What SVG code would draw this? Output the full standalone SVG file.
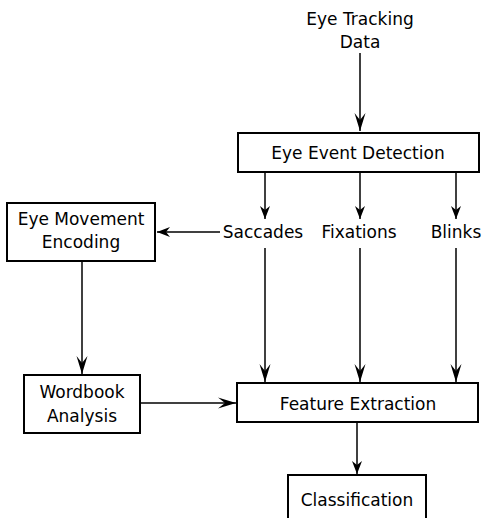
<svg xmlns="http://www.w3.org/2000/svg" width="482" height="518" viewBox="0 0 482 518">
<style>
.box{fill:#fff;stroke:#000;stroke-width:2}
.t{font-family:"DejaVu Sans",Verdana,sans-serif;font-size:17px;fill:#000;text-anchor:middle}
.c{stroke:#000;stroke-width:1.5;fill:none}
.a1{marker-end:url(#ah)}
.a2{marker-end:url(#ahb)}
</style>
<defs>
<marker id="ah" markerUnits="userSpaceOnUse" markerWidth="16" markerHeight="14" viewBox="-14 -6 16 12" refX="0" refY="0" orient="auto">
<path d="M0,0 L-13,-5 L-9,0 L-13,5 Z" fill="#000"/>
</marker>
<marker id="ahb" markerUnits="userSpaceOnUse" markerWidth="20" markerHeight="14" viewBox="-18 -7 20 14" refX="0" refY="0" orient="auto">
<path d="M0,0 L-18,-5.5 L-11,0 L-18,5.5 Z" fill="#000"/>
</marker>
</defs>
<g id="connectors">
<line class="c a2" x1="360" y1="53" x2="360" y2="131"/>
<line class="c a1" x1="265" y1="172" x2="265" y2="219"/>
<line class="c a1" x1="360" y1="172" x2="360" y2="219"/>
<line class="c a1" x1="456" y1="172" x2="456" y2="219"/>
<line class="c a1" x1="220" y1="232" x2="157" y2="232"/>
<line class="c a2" x1="265" y1="248" x2="265" y2="382"/>
<line class="c a2" x1="360" y1="248" x2="360" y2="382"/>
<line class="c a2" x1="456" y1="248" x2="456" y2="382"/>
<line class="c a2" x1="82" y1="261" x2="82" y2="374"/>
<line class="c a2" x1="140" y1="403" x2="236" y2="403"/>
<line class="c a1" x1="357" y1="422" x2="357" y2="474"/>
</g>
<g id="eye-tracking-data">
<text class="t" x="360" y="25">Eye Tracking</text>
<text class="t" x="360" y="48">Data</text>
</g>
<g id="eye-event-detection">
<rect class="box" x="238" y="133" width="241" height="39"/>
<text class="t" x="358" y="159">Eye Event Detection</text>
</g>
<g id="saccades"><text class="t" x="263" y="238">Saccades</text></g>
<g id="fixations"><text class="t" x="359" y="238">Fixations</text></g>
<g id="blinks"><text class="t" x="456" y="238">Blinks</text></g>
<g id="eye-movement-encoding">
<rect class="box" x="7" y="203" width="148" height="58"/>
<text class="t" x="81" y="225">Eye Movement</text>
<text class="t" x="81" y="248">Encoding</text>
</g>
<g id="wordbook-analysis">
<rect class="box" x="24" y="375" width="116" height="58"/>
<text class="t" x="82" y="398">Wordbook</text>
<text class="t" x="82" y="422">Analysis</text>
</g>
<g id="feature-extraction">
<rect class="box" x="237" y="383" width="241" height="39"/>
<text class="t" x="358" y="410">Feature Extraction</text>
</g>
<g id="classification">
<rect class="box" x="288" y="475" width="138" height="50"/>
<text class="t" x="357" y="506">Classification</text>
</g>
</svg>
